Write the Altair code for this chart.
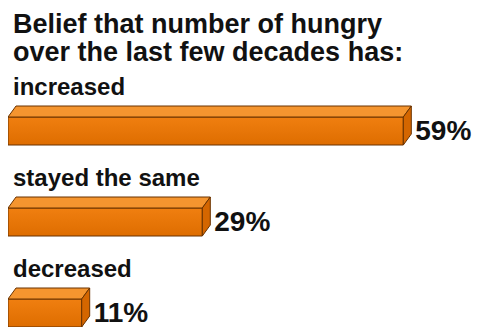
import altair as alt
import pandas as pd

# ---- data ----
categories = ["increased", "stayed the same", "decreased"]
values = [59, 29, 11]
value_labels = ["59%", "29%", "11%"]
title_lines = ["Belief that number of hungry", "over the last few decades has:"]

# ---- layout / style constants ----
W, H = 465, 319
K = 6.7                 # pixels per percent
XMAX = W / K
DEPTH_X = 8 / K         # 3D depth in data units (x)
DEPTH_Y = 11            # 3D depth in layout units (y)
ROW = 91
FTOP0 = 109
FH = 28
FONT = "Liberation Sans"
OUT = "#6a3300"
FRONT_TOP, FRONT_BOT = "#f07f10", "#de6d00"
TOPC = "#f5952f"
SIDEC = "#d46600"
TXT = "#111111"

rows = []
top_pts = []
side_pts = []
for i, (c, v, lab) in enumerate(zip(categories, values, value_labels)):
    ftop = FTOP0 + ROW * i
    fbot = ftop + FH
    rows.append(dict(cat=c, value=v, x0=0, ftop=ftop, fbot=fbot,
                     label_y=ftop - 22, val_y=fbot - 5, lab=lab))
    top_pts.append(dict(cat=c, y=ftop - DEPTH_Y, x=DEPTH_X, x2=v + DEPTH_X))
    top_pts.append(dict(cat=c, y=ftop, x=0, x2=v))
    side_pts.append(dict(cat=c, x=v, y=ftop, y2=fbot))
    side_pts.append(dict(cat=c, x=v + DEPTH_X, y=ftop - DEPTH_Y, y2=fbot - DEPTH_Y))

bars = pd.DataFrame(rows)
topdf = pd.DataFrame(top_pts)
sidedf = pd.DataFrame(side_pts)
titledf = pd.DataFrame({"t": title_lines, "y": [25, 53]})

xs = alt.Scale(domain=[0, XMAX], nice=False, zero=False)
ys = alt.Scale(domain=[0, H], reverse=True, nice=False, zero=False)

grad = alt.Gradient(gradient="linear",
                    stops=[alt.GradientStop(color=FRONT_TOP, offset=0),
                           alt.GradientStop(color=FRONT_BOT, offset=1)],
                    x1=0, x2=0, y1=0, y2=1)

front = alt.Chart(bars).mark_rect(fill=grad, stroke=OUT, strokeWidth=1, opacity=1).encode(
    x=alt.X("x0:Q", scale=xs, axis=None), x2="value:Q",
    y=alt.Y("ftop:Q", scale=ys, axis=None), y2="fbot:Q")

top = alt.Chart(topdf).mark_area(orient="horizontal", fill=TOPC, stroke=OUT,
                                 strokeWidth=1, opacity=1).encode(
    y=alt.Y("y:Q", scale=ys, axis=None),
    x=alt.X("x:Q", scale=xs, axis=None), x2="x2:Q",
    detail="cat:N")

side = alt.Chart(sidedf).mark_area(orient="vertical", fill=SIDEC, stroke=OUT,
                                   strokeWidth=1, opacity=1).encode(
    x=alt.X("x:Q", scale=xs, axis=None),
    y=alt.Y("y:Q", scale=ys, axis=None), y2="y2:Q",
    detail="cat:N")

title = alt.Chart(titledf).mark_text(align="left", baseline="alphabetic", font=FONT,
                                     fontWeight="bold", fontSize=27, color=TXT).encode(
    x=alt.value(5), y=alt.Y("y:Q", scale=ys, axis=None), text="t:N")

cat_labels = alt.Chart(bars).mark_text(align="left", baseline="alphabetic", font=FONT,
                                       fontWeight="bold", fontSize=24, color=TXT).encode(
    x=alt.value(5), y=alt.Y("label_y:Q", scale=ys, axis=None), text="cat:N")

val_labels = alt.Chart(bars).mark_text(align="left", baseline="alphabetic", font=FONT,
                                       fontWeight="bold", fontSize=28, color=TXT, dx=12).encode(
    x=alt.X("value:Q", scale=xs, axis=None),
    y=alt.Y("val_y:Q", scale=ys, axis=None), text="lab:N")

chart = alt.layer(front, top, side, title, cat_labels, val_labels).properties(
    width=W, height=H, padding=0, autosize=alt.AutoSizeParams(type="none"),
    background="white"
).configure_view(stroke=None)

chart.save("out.html", embed_options={"renderer": "svg", "actions": False})
